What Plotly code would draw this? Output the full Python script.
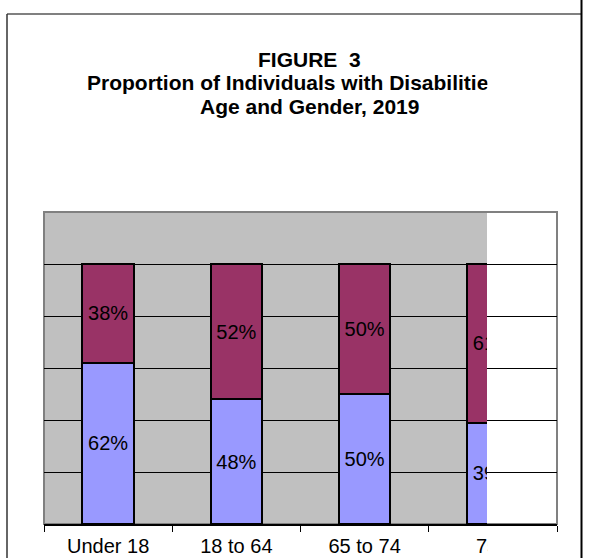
import plotly.graph_objects as go

categories = ["Under 18", "18 to 64", "65 to 74", "75+"]
share_low = [0.62, 0.48, 0.50, 0.39]   # lower segment (blue)
share_high = [0.38, 0.52, 0.50, 0.61]  # upper segment (purple)
y_ticks = [0.2, 0.4, 0.6, 0.8, 1.0]
title_lines = ["FIGURE\u00a0\u00a03",
               "Proportion of Individuals with Disabilities by",
               "Age and Gender, 2019"]

W, H = 589, 558
L, R, T, B = 44, 32, 212, 34
PW = W - L - R          # 513
PH = H - T - B          # 312
CLIP_X = 487            # pixel where the picture is cut off


def px_x(p):
    return (p - L) / PW


def px_y(p):
    return (H - B - p) / PH


clip_frac = px_x(CLIP_X)
cat_w = PW / len(categories)
x2_max = -0.5 + (CLIP_X - L) / cat_w

FONT = "Liberation Sans, Arial, sans-serif"
BLUE = "#9999FF"
PURPLE = "#993366"

fig = go.Figure()
# carrier trace for the full-width axes (gridlines, ticks, labels)
fig.add_trace(go.Scatter(x=categories, y=share_low, mode="none",
                         xaxis="x", yaxis="y", showlegend=False,
                         hoverinfo="skip"))
fig.add_trace(go.Bar(
    x=categories, y=share_low, xaxis="x2", yaxis="y2",
    marker=dict(color=BLUE, line=dict(color="black", width=2)),
    texttemplate="%{y:.0%}", textposition="inside", insidetextanchor="middle",
    textfont=dict(family=FONT, size=20, color="black"), cliponaxis=True,
    showlegend=False, hoverinfo="skip"))
fig.add_trace(go.Bar(
    x=categories, y=share_high, xaxis="x2", yaxis="y2",
    marker=dict(color=PURPLE, line=dict(color="black", width=2)),
    texttemplate="%{y:.0%}", textposition="inside", insidetextanchor="middle",
    textfont=dict(family=FONT, size=20, color="black"), cliponaxis=True,
    showlegend=False, hoverinfo="skip"))

shapes = [
    # grey plot background (only up to the cut)
    dict(type="rect", xref="paper", yref="paper", x0=0, x1=clip_frac, y0=0, y1=1,
         fillcolor="#C0C0C0", line=dict(width=0), layer="below"),
    # plot area border
    dict(type="rect", xref="paper", yref="paper", x0=0, x1=1, y0=0, y1=1,
         line=dict(color="#808080", width=2), layer="below"),
    # outer chart frame
    dict(type="line", xref="paper", yref="paper", x0=px_x(7), x1=px_x(581),
         y0=px_y(14), y1=px_y(14), line=dict(color="#808080", width=2)),
    dict(type="line", xref="paper", yref="paper", x0=px_x(7), x1=px_x(7),
         y0=px_y(14), y1=px_y(H + 2), line=dict(color="#333333", width=1.5)),
    dict(type="line", xref="paper", yref="paper", x0=px_x(581.5), x1=px_x(581.5),
         y0=px_y(-2), y1=px_y(H + 2), line=dict(color="black", width=2)),
]

annotations = []
centers = [59, 82.5, 106.5]
for txt, cy in zip(title_lines, centers):
    annotations.append(dict(
        text=txt, xref="paper", yref="paper", x=px_x(309), y=px_y(cy),
        xanchor="center", yanchor="middle", showarrow=False,
        font=dict(family=FONT, size=21, color="black", weight="bold")))
# white covers reproducing the cut-off at the right
annotations.append(dict(text="\u00a0", xref="paper", yref="paper",
                        x=clip_frac, y=px_y(68), xanchor="left", yanchor="top",
                        width=80, height=30, bgcolor="white", borderpad=0,
                        showarrow=False))
annotations.append(dict(text="\u00a0", xref="paper", yref="paper",
                        x=clip_frac, y=px_y(532), xanchor="left", yanchor="top",
                        width=60, height=28, bgcolor="white", borderpad=0,
                        showarrow=False))

fig.update_layout(
    width=W, height=H,
    margin=dict(l=L, r=R, t=T, b=B, pad=0, autoexpand=False),
    paper_bgcolor="white", plot_bgcolor="rgba(0,0,0,0)",
    barmode="stack", bargap=0.6,
    showlegend=False,
    xaxis=dict(domain=[0, 1], type="category", categoryarray=categories,
               range=[-0.5, len(categories) - 0.5], showgrid=False,
               tickson="boundaries", ticks="outside", ticklen=6, tickwidth=1,
               tickcolor="black", showline=True, linecolor="black", linewidth=1.5,
               tickfont=dict(family=FONT, size=20, color="black"),
               ticklabelstandoff=3, fixedrange=True, zeroline=False,
               automargin=False),
    yaxis=dict(domain=[0, 1], range=[0, 1.2], tickvals=y_ticks, showgrid=True,
               gridcolor="black", gridwidth=1, showticklabels=False, ticks="",
               zeroline=False, showline=False, fixedrange=True,
               automargin=False),
    xaxis2=dict(domain=[0, clip_frac], anchor="y2", type="category",
                categoryarray=categories, range=[-0.5, x2_max], visible=False,
                fixedrange=True, automargin=False),
    yaxis2=dict(domain=[0, 1], anchor="x2", range=[0, 1.2], visible=False,
                fixedrange=True, automargin=False),
    shapes=shapes,
    annotations=annotations,
)

fig.write_html("out.html",
               config={"displayModeBar": False},
               post_script="document.body.style.margin='0px';"
                           "document.body.style.overflow='hidden';")
